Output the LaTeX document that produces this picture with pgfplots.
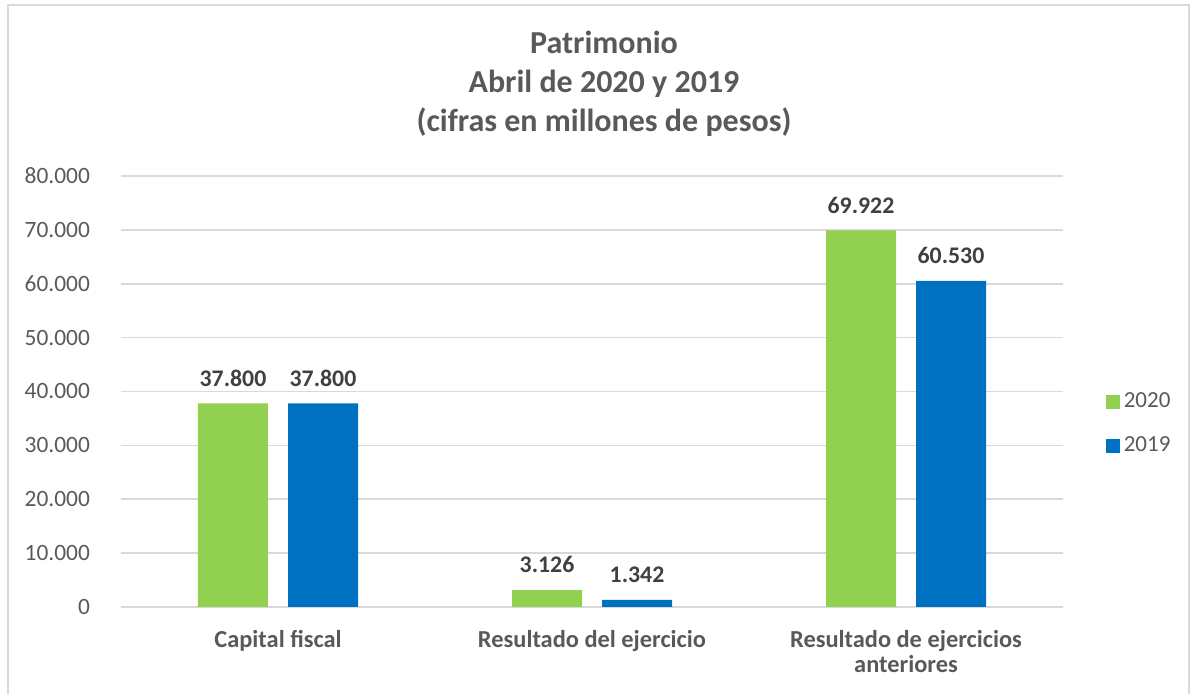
\documentclass[border=0pt]{standalone}
\usepackage{fontspec}
\setmainfont{Carlito}
\usepackage{pgfplots}
\pgfplotsset{compat=1.18}
\definecolor{verde}{HTML}{92D050}
\definecolor{azul}{HTML}{0070C0}
\definecolor{txt}{HTML}{595959}
\definecolor{lbl}{HTML}{404040}
\definecolor{gridc}{HTML}{D9D9D9}

\begin{document}
\begin{tikzpicture}
% 1 px of the reference = 0.5pt; axis lower left at px (121,607)
\path[use as bounding box] (-60.5pt,-43.5pt) rectangle (536pt,303.5pt);
\draw[gridc,line width=0.8pt] (-56.5pt,-44pt) -- (-56.5pt,301pt) -- (534pt,301pt) -- (534pt,-44pt);
\node[txt,font=\fontsize{16}{19.5}\selectfont\bfseries,align=center] at (241.5pt,261.5pt)
  {Patrimonio\\Abril de 2020 y 2019\\(cifras en millones de pesos)};
\begin{axis}[
  scale only axis,
  width=471pt, height=215.5pt,
  at={(0pt,0pt)}, anchor=south west,
  ybar=10pt, bar width=35pt,
  xmin=-0.5, xmax=2.5,
  ymin=0, ymax=80000,
  xtick=data,
  xticklabels={Capital fiscal,Resultado del ejercicio,{Resultado de ejercicios\\anteriores}},
  xticklabel style={font=\fontsize{12.2}{12.8}\selectfont\bfseries,text=txt,align=center,yshift=-8pt},
  ytick={0,10000,...,80000},
  yticklabel style={font=\fontsize{11.7}{14}\selectfont,text=txt,xshift=-12pt},
  /pgf/number format/.cd, assume math mode=true, set thousands separator={.}, fixed, 1000 sep in fractionals,
  /pgfplots/.cd,
  scaled y ticks=false,
  ymajorgrids, xmajorgrids=false,
  grid style={draw=gridc,line width=0.8pt},
  axis x line*=bottom,
  axis y line*=left,
  y axis line style={draw=none},
  x axis line style={draw=gridc,line width=0.8pt,-},
  major tick length=0pt,
  nodes near coords,
  every node near coord/.append style={font=\fontsize{11.9}{14}\selectfont\bfseries,text=lbl,yshift=5pt},
  legend style={draw=none,fill=none,at={(1.045,0.425)},anchor=west,
    font=\fontsize{11.5}{14}\selectfont,text=txt,row sep=9pt,inner sep=0pt,
    /tikz/every even column/.append style={column sep=3.5pt}},
  legend cell align=left,
  legend image code/.code={\fill[#1] (0pt,-3.5pt) rectangle (7pt,3.5pt);},
]
\addplot[fill=verde,draw=none] coordinates {(0,37800) (1,3126) (2,69922)};
\addlegendentry{2020}
\addplot[fill=azul,draw=none] coordinates {(0,37800) (1,1342) (2,60530)};
\addlegendentry{2019}
\end{axis}
\end{tikzpicture}
\end{document}
